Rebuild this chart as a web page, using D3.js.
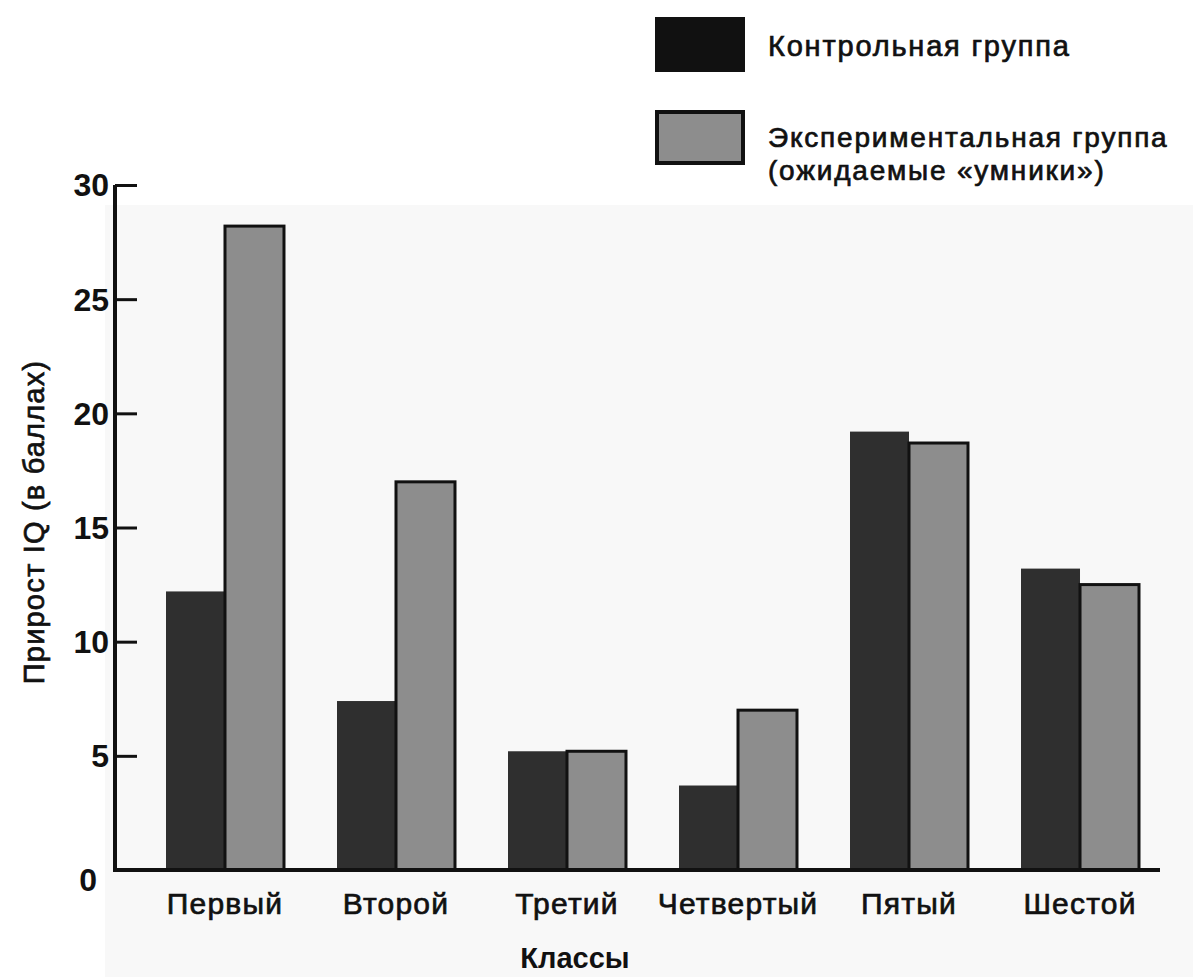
<!DOCTYPE html>
<html>
<head>
<meta charset="utf-8">
<script src="https://cdn.jsdelivr.net/npm/d3@7"></script>
<style>
  body { margin: 0; background: #fff; }
  text { font-family: "Liberation Sans", Arial, sans-serif; fill: #111; }
  .heavy { stroke: #111; stroke-width: 0.7px; letter-spacing: 1.2px; }
  .legend-text { letter-spacing: 1.8px; }
</style>
</head>
<body>
<svg id="chart" width="1193" height="977"></svg>
<script>
// Data
const classes = ['Первый', 'Второй', 'Третий', 'Четвертый', 'Пятый', 'Шестой'];
const controlGain = [12.2, 7.4, 5.2, 3.7, 19.2, 13.2];
const expectedGain = [28.2, 17.0, 5.2, 7.0, 18.7, 12.5];
const yTicks = [0, 5, 10, 15, 20, 25, 30];
const seriesNames = ['Контрольная группа', 'Экспериментальная группа', '(ожидаемые «умники»)'];

const svg = d3.select('#chart');

// faint scan tone behind the plot
svg.append('rect')
  .attr('x', 105).attr('y', 205)
  .attr('width', 1088).attr('height', 772)
  .attr('fill', '#f8f8f8');

const y = d3.scaleLinear().domain([0, 30]).range([870, 185]);

const x = d3.scaleBand()
  .domain(classes)
  .range([166, 1139])
  .paddingInner(0.31)
  .paddingOuter(0);

const half = x.bandwidth() / 2;

// bars
const groups = svg.append('g').selectAll('g')
  .data(classes)
  .enter()
  .append('g')
  .attr('transform', d => 'translate(' + x(d) + ',0)');

groups.append('rect')
  .attr('x', 0)
  .attr('y', (d, i) => y(controlGain[i]))
  .attr('width', half)
  .attr('height', (d, i) => y(0) - y(controlGain[i]))
  .attr('fill', '#2f2f2f');

groups.append('rect')
  .attr('x', half)
  .attr('y', (d, i) => y(expectedGain[i]))
  .attr('width', half)
  .attr('height', (d, i) => y(0) - y(expectedGain[i]))
  .attr('fill', '#8d8d8d')
  .attr('stroke', '#111')
  .attr('stroke-width', 3);

// y axis
const yAxis = svg.append('g')
  .attr('transform', 'translate(115,0)')
  .call(d3.axisLeft(y).tickValues(yTicks).tickSize(-22).tickPadding(6));

yAxis.select('.domain')
  .attr('stroke', '#111').attr('stroke-width', 4)
  .attr('d', 'M0,' + y(30) + 'V' + (y(0) + 2));
yAxis.selectAll('.tick line').attr('stroke', '#111').attr('stroke-width', 3);
yAxis.selectAll('.tick text')
  .attr('font-size', 32)
  .attr('font-weight', 'bold')
  .attr('fill', '#111')
  .attr('dy', '0.34em');
yAxis.selectAll('.tick')
  .filter(d => d === 0)
  .select('text')
  .attr('x', -18)
  .attr('dy', '0.65em');

// x axis
svg.append('line')
  .attr('x1', 113).attr('x2', 1160)
  .attr('y1', y(0)).attr('y2', y(0))
  .attr('stroke', '#111').attr('stroke-width', 4);

const xAxis = svg.append('g')
  .attr('transform', 'translate(0,' + y(0) + ')')
  .call(d3.axisBottom(x).tickSize(0).tickPadding(23));
xAxis.select('.domain').remove();
xAxis.selectAll('.tick text')
  .attr('class', 'heavy')
  .attr('font-size', 30)
  .attr('fill', '#111');

// axis titles
svg.append('text')
  .attr('x', 575).attr('y', 968)
  .attr('text-anchor', 'middle')
  .attr('font-size', 29)
  .attr('font-weight', 'bold')
  .text('Классы');

svg.append('text')
  .attr('class', 'heavy')
  .attr('transform', 'translate(44,522) rotate(-90)')
  .attr('text-anchor', 'middle')
  .attr('font-size', 29)
  .text('Прирост IQ (в баллах)');

// legend
const legend = svg.append('g');
legend.append('rect')
  .attr('x', 655).attr('y', 17).attr('width', 90).attr('height', 55)
  .attr('fill', '#111');
legend.append('text')
  .attr('class', 'heavy legend-text')
  .attr('x', 768).attr('y', 56)
  .attr('font-size', 29)
  .text(seriesNames[0]);

legend.append('rect')
  .attr('x', 657).attr('y', 112).attr('width', 86).attr('height', 51)
  .attr('fill', '#8d8d8d')
  .attr('stroke', '#111').attr('stroke-width', 4);
legend.append('text')
  .attr('class', 'heavy legend-text')
  .attr('x', 768).attr('y', 147)
  .attr('font-size', 28)
  .text(seriesNames[1]);
legend.append('text')
  .attr('class', 'heavy legend-text')
  .attr('x', 768).attr('y', 180)
  .attr('font-size', 28)
  .text(seriesNames[2]);
</script>
</body>
</html>
